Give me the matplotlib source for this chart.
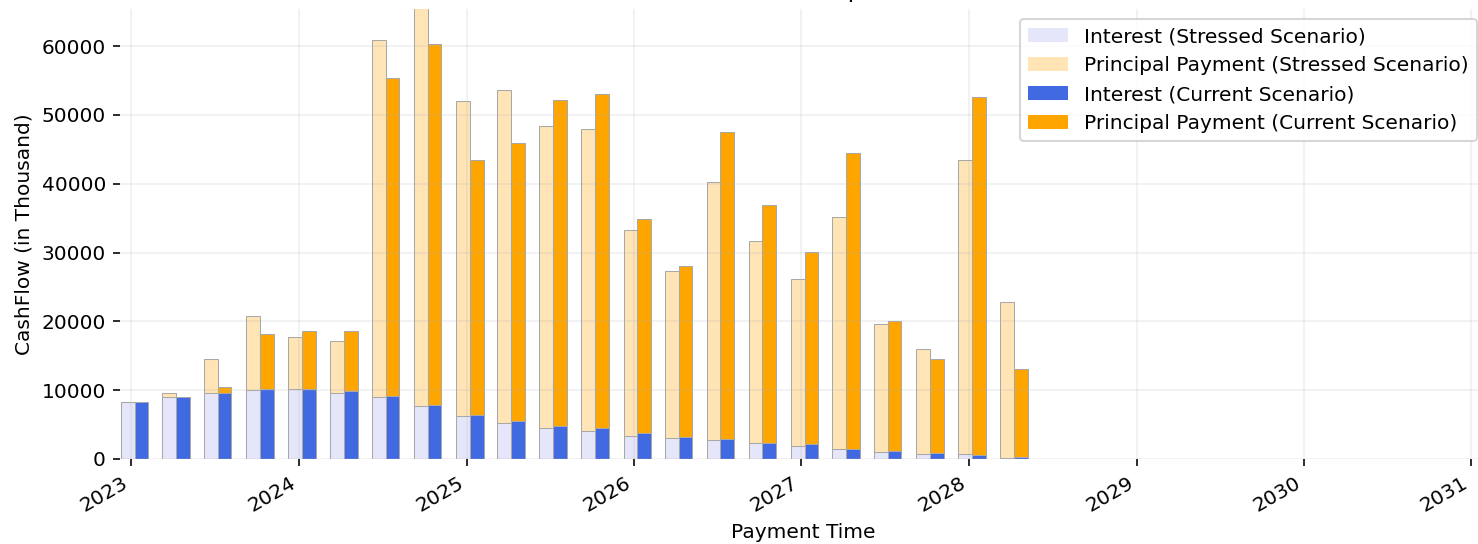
import matplotlib
matplotlib.use("Agg")
import matplotlib.pyplot as plt
import matplotlib.dates as mdates
from matplotlib.patches import Patch
import pandas as pd
import numpy as np

payment_dates = ["2023-01-08", "2023-04-08", "2023-07-08", "2023-10-08",
                 "2024-01-08", "2024-04-08", "2024-07-08", "2024-10-08",
                 "2025-01-08", "2025-04-08", "2025-07-08", "2025-10-08",
                 "2026-01-08", "2026-04-08", "2026-07-08", "2026-10-08",
                 "2027-01-08", "2027-04-08", "2027-07-08", "2027-10-08",
                 "2028-01-08", "2028-04-08"]

stressed_interest = [8340, 8980, 9570, 10050, 10240, 9610, 8980, 7700, 6200, 5270, 4460,
                     4050, 3390, 3000, 2760, 2270, 1890, 1450, 1060, 770, 700, 150]
stressed_principal = [0, 590, 4950, 10730, 7480, 7530, 51970, 57780, 45830, 48410, 43880,
                      43900, 29910, 24300, 37460, 29480, 24340, 33790, 18540, 15250, 42710, 22690]
current_interest = [8340, 8980, 9570, 10240, 10240, 9860, 9170, 7890, 6390, 5560, 4860,
                    4480, 3830, 3190, 2950, 2320, 2130, 1500, 1110, 820, 620, 250]
current_principal = [0, 0, 870, 7920, 8350, 8730, 46260, 52490, 37050, 40400, 47360,
                     48560, 31120, 24930, 44530, 34600, 27970, 42930, 18880, 13660, 51940, 12770]

labels = ["Interest (Stressed Scenario)", "Principal Payment (Stressed Scenario)",
          "Interest (Current Scenario)", "Principal Payment (Current Scenario)"]
colors = ["lavender", "moccasin", "royalblue", "orange"]

DPI = 145
fig = plt.figure(figsize=(1478 / DPI, 544 / DPI), dpi=DPI)
W, H = 1478, 544
L, R, T, B = 120, 1487, 9, 459
ax = fig.add_axes([L / W, 1 - B / H, (R - L) / W, (B - T) / H])

dates = pd.to_datetime(payment_dates)
off = pd.Timedelta(days=15)
width = 30

si = np.array(stressed_interest)
sp = np.array(stressed_principal)
ci = np.array(current_interest)
cp = np.array(current_principal)

edge = dict(edgecolor="#a8a8a8", linewidth=0.5)
ax.bar(dates - off, si, width=width, color=colors[0], **edge)
ax.bar(dates - off, sp, width=width, bottom=si, color=colors[1], **edge)
ax.bar(dates + off, ci, width=width, color=colors[2], **edge)
ax.bar(dates + off, cp, width=width, bottom=ci, color=colors[3], **edge)

ax.set_xlim(pd.Timestamp("2022-12-07"), pd.Timestamp("2031-02-04"))
ax.set_ylim(0, 65400)
ax.xaxis.set_major_locator(mdates.YearLocator())
ax.xaxis.set_major_formatter(mdates.DateFormatter("%Y"))
for lab in ax.get_xticklabels():
    lab.set_rotation(30)
    lab.set_ha("right")

ax.grid(True, alpha=0.2)
for s in ax.spines.values():
    s.set_visible(False)

ax.set_xlabel("Payment Time")
ax.set_ylabel("CashFlow (in Thousand)")
ax.set_title("CashFlow Comparison")
handles = [Patch(facecolor=c, edgecolor="none", label=l) for c, l in zip(colors, labels)]
ax.legend(handles=handles, loc="upper right")

fig.savefig("out.png", dpi=DPI)
